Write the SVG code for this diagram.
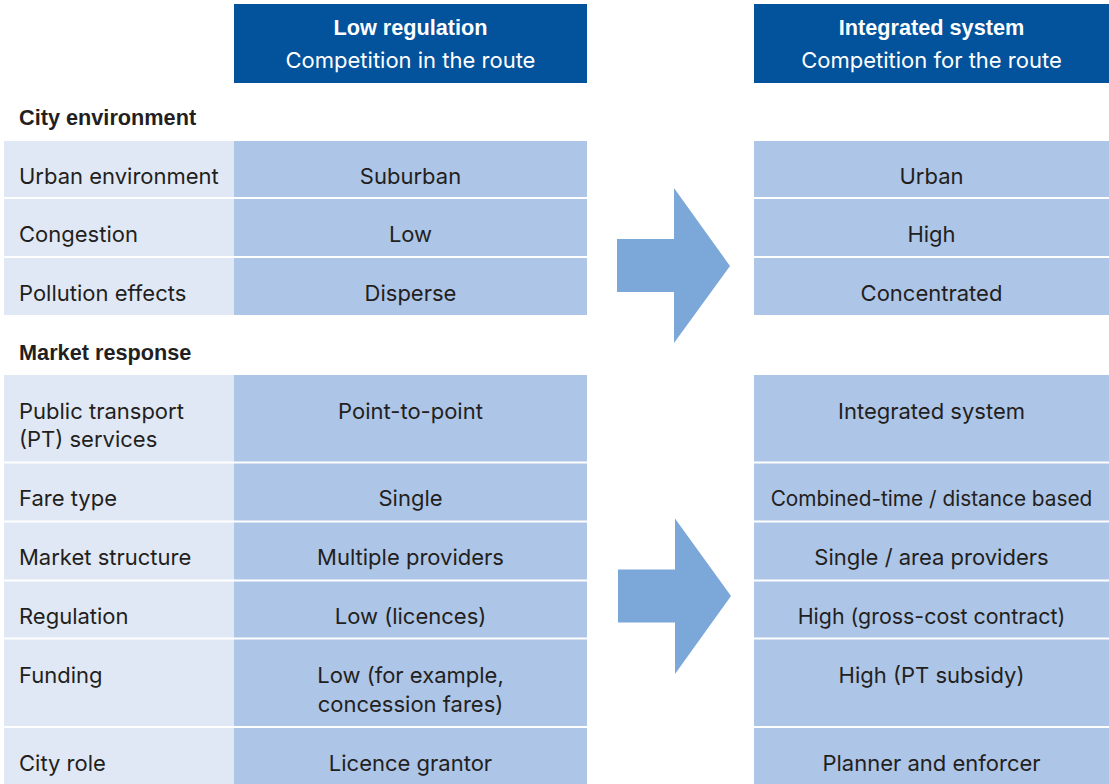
<svg xmlns="http://www.w3.org/2000/svg" width="1109" height="784" viewBox="0 0 1109 784">
<style>
.hdr{fill:#02529C}
.lab{fill:#E1E8F5}
.val{fill:#ADC5E7}
.arr{fill:#7BA8D8}
text{font-family:Inter,"DejaVu Sans",sans-serif;font-size:22px;fill:#231F20}
.c{text-anchor:middle}
.b{font-family:"Liberation Sans",Arial,sans-serif;font-weight:bold;font-size:21.7px}
.w{fill:#FFFFFF}
</style>
<rect x="0" y="0" width="1109" height="784" fill="#FFFFFF"/>
<g id="header-low">
<rect class="hdr" x="234" y="4" width="353" height="79"/>
<text class="c b w" x="410.5" y="35">Low regulation</text>
<text class="c w" x="410.5" y="67.5">Competition in the route</text>
</g>
<g id="header-integrated">
<rect class="hdr" x="754" y="4" width="355" height="79"/>
<text class="c b w" x="931.5" y="35">Integrated system</text>
<text class="c w" x="931.5" y="67.5">Competition for the route</text>
</g>
<g id="section-city">
<text class="b" x="19" y="125">City environment</text>
</g>
<g id="section-market">
<text class="b" x="19" y="360">Market response</text>
</g>
<g id="row-urban">
<rect class="lab" x="4" y="141" width="230" height="56"/>
<rect class="val" x="234" y="141" width="353" height="56"/>
<rect class="val" x="754" y="141" width="355" height="56"/>
<text x="19" y="183.5">Urban environment</text>
<text class="c" x="410.5" y="183.5">Suburban</text>
<text class="c" x="931.5" y="183.5">Urban</text>
</g>
<g id="row-congestion">
<rect class="lab" x="4" y="199" width="230" height="57"/>
<rect class="val" x="234" y="199" width="353" height="57"/>
<rect class="val" x="754" y="199" width="355" height="57"/>
<text x="19" y="242">Congestion</text>
<text class="c" x="410.5" y="242">Low</text>
<text class="c" x="931.5" y="242">High</text>
</g>
<g id="row-pollution">
<rect class="lab" x="4" y="258" width="230" height="57"/>
<rect class="val" x="234" y="258" width="353" height="57"/>
<rect class="val" x="754" y="258" width="355" height="57"/>
<text x="19" y="300.5">Pollution effects</text>
<text class="c" x="410.5" y="300.5">Disperse</text>
<text class="c" x="931.5" y="300.5">Concentrated</text>
</g>
<g id="row-pt">
<rect class="lab" x="4" y="375" width="230" height="86.5"/>
<rect class="val" x="234" y="375" width="353" height="86.5"/>
<rect class="val" x="754" y="375" width="355" height="86.5"/>
<text x="19" y="418.5">Public transport</text>
<text x="19" y="447">(PT) services</text>
<text class="c" x="410.5" y="418.5">Point-to-point</text>
<text class="c" x="931.5" y="418.5">Integrated system</text>
</g>
<g id="row-fare">
<rect class="lab" x="4" y="463.5" width="230" height="57"/>
<rect class="val" x="234" y="463.5" width="353" height="57"/>
<rect class="val" x="754" y="463.5" width="355" height="57"/>
<text x="19" y="506">Fare type</text>
<text class="c" x="410.5" y="506">Single</text>
<text class="c" x="931.5" y="506" style="font-size:20.8px">Combined-time / distance based</text>
</g>
<g id="row-structure">
<rect class="lab" x="4" y="522.5" width="230" height="57"/>
<rect class="val" x="234" y="522.5" width="353" height="57"/>
<rect class="val" x="754" y="522.5" width="355" height="57"/>
<text x="19" y="564.5">Market structure</text>
<text class="c" x="410.5" y="564.5">Multiple providers</text>
<text class="c" x="931.5" y="564.5">Single / area providers</text>
</g>
<g id="row-regulation">
<rect class="lab" x="4" y="581.5" width="230" height="56"/>
<rect class="val" x="234" y="581.5" width="353" height="56"/>
<rect class="val" x="754" y="581.5" width="355" height="56"/>
<text x="19" y="623.5">Regulation</text>
<text class="c" x="410.5" y="623.5">Low (licences)</text>
<text class="c" x="931.5" y="623.5" style="font-size:21.4px">High (gross-cost contract)</text>
</g>
<g id="row-funding">
<rect class="lab" x="4" y="639.5" width="230" height="86.5"/>
<rect class="val" x="234" y="639.5" width="353" height="86.5"/>
<rect class="val" x="754" y="639.5" width="355" height="86.5"/>
<text x="19" y="683">Funding</text>
<text class="c" x="410.5" y="683">Low (for example,</text>
<text class="c" x="410.5" y="712">concession fares)</text>
<text class="c" x="931.5" y="683">High (PT subsidy)</text>
</g>
<g id="row-cityrole">
<rect class="lab" x="4" y="728" width="230" height="56"/>
<rect class="val" x="234" y="728" width="353" height="56"/>
<rect class="val" x="754" y="728" width="355" height="56"/>
<text x="19" y="770.5">City role</text>
<text class="c" x="410.5" y="770.5">Licence grantor</text>
<text class="c" x="931.5" y="770.5">Planner and enforcer</text>
</g>
<g id="connectors">
<polygon class="arr" points="617,239 674,239 674,188 730,266 674,343 674,292 617,292"/>
<polygon class="arr" points="618,569.5 675,569.5 675,518.5 731,596 675,674 675,622.5 618,622.5"/>
</g>
</svg>
